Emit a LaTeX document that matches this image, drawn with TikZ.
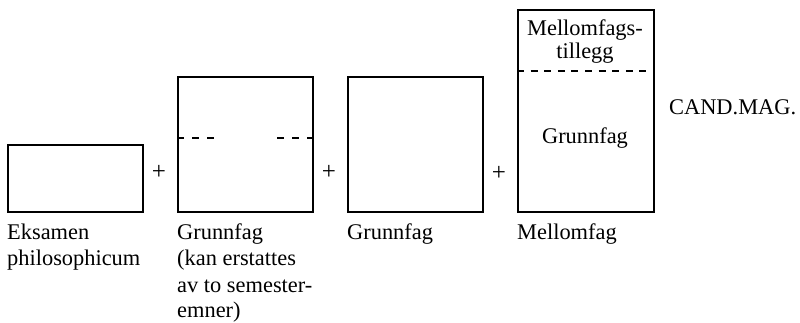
\documentclass[tikz,border=0pt]{standalone}
\usepackage{fontspec}
\setmainfont{Liberation Serif}
\begin{document}
\begin{tikzpicture}[x=1pt,y=-1pt,
  box/.style={draw, line width=1.5pt, inner sep=0pt, anchor=north west},
  div/.style={line width=1.5pt, dash pattern=on 7pt off 8pt},
  txt/.style={font=\fontsize{22.4}{27}\selectfont, inner sep=0pt},
  lbl/.style={txt, anchor=base west},
  plus/.style={font=\fontsize{25}{27}\selectfont, inner sep=0pt, anchor=center}]
\useasboundingbox (0,0) rectangle (800,322);
% boxes
\node[box, minimum width=135pt, minimum height=67pt]  (b1) at (7,144) {};
\node[box, minimum width=135pt, minimum height=135pt] (b2) at (177,76) {};
\node[box, minimum width=135pt, minimum height=135pt] (b3) at (347,76) {};
\node[box, minimum width=136pt, minimum height=202pt] (b4) at (517,9) {};
% dashed dividers
\draw[div] (b2.north west) ++(0,62) -- ++(38,0);
\draw[div] (b2.north east) ++(0,62) -- ++(-38,0);
\draw[line width=1.5pt, dash pattern=on 7pt off 6.6pt] (b4.north west) ++(0,62) -- ++(136,0);
% plus signs
\node[plus] (p1) at (159,172) {+};
\node[plus] (p2) at (329,172) {+};
\node[plus] (p3) at (499,173) {+};
% text inside box 4
\node[txt, anchor=base] (m1) at (585,35) {Mellomfags-};
\node[txt, anchor=base] (m2) at (585,58) {tillegg};
\node[txt, anchor=base] (m3) at (585,143) {Grunnfag};
% result
\node[lbl] (cm) at (669,114) {CAND.MAG.};
% labels under boxes
\node[lbl] (e1) at (7,239) {Eksamen};
\node[lbl] (e2) at (7,265.5) {philosophicum};
\node[lbl] (g1) at (177,239) {Grunnfag};
\node[lbl] (g2) at (177,265.5) {(kan erstattes};
\node[lbl] (g3) at (177,292) {av to semester-};
\node[lbl] (g4) at (177,317) {emner)};
\node[lbl] (g5) at (347,239) {Grunnfag};
\node[lbl] (mf) at (517,239) {Mellomfag};
\end{tikzpicture}
\end{document}
